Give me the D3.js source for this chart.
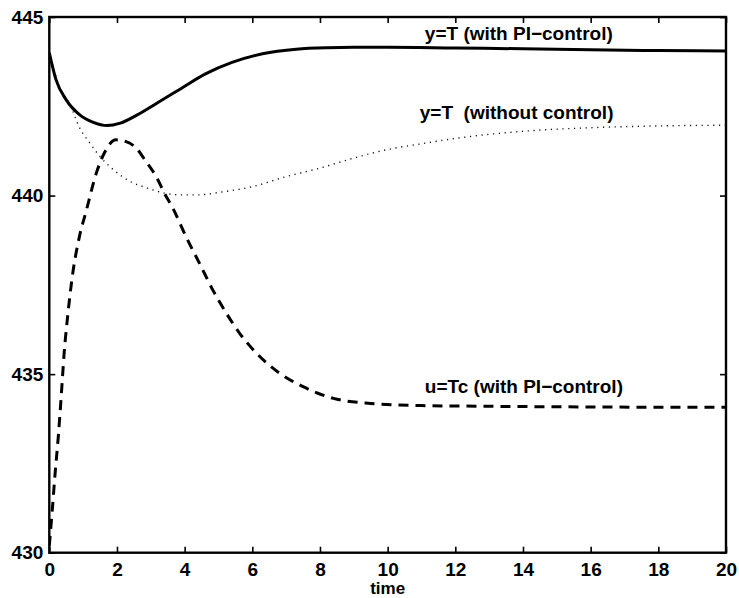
<!DOCTYPE html>
<html>
<head>
<meta charset="utf-8">
<script src="https://cdn.jsdelivr.net/npm/d3@7"></script>
<style>
  html, body { margin: 0; padding: 0; background: #fff; }
  svg { display: block; }
  text { font-family: "Liberation Sans", Arial, Helvetica, sans-serif; font-weight: bold; white-space: pre; }
</style>
</head>
<body>
<svg id="chart" width="739" height="598"></svg>
<script>
// ---- data ----
const xTicks = [0, 2, 4, 6, 8, 10, 12, 14, 16, 18, 20];
const yTicks = [430, 435, 440, 445];

// y = T with PI-control (solid)
const tPI = [0, 0.2, 0.5, 0.9, 1.3, 1.7, 2.1, 2.6, 3.2, 3.9, 4.6, 5.4, 6.3, 7.3, 8.2, 9, 10, 12, 14, 16, 18, 20];
const yPI = [444.0, 443.24, 442.68, 442.26, 442.05, 441.96, 442.03, 442.26, 442.6, 443.0, 443.4, 443.73, 443.97, 444.1, 444.14, 444.15, 444.15, 444.13, 444.11, 444.08, 444.06, 444.05];

// y = T without control (dotted)
const tNo = [0, 0.3, 0.6, 0.9, 1.2, 1.5, 1.9, 2.4, 2.9, 3.4, 3.9, 4.4, 5.1, 6, 7, 8, 9, 10, 11, 12, 14, 16, 18, 20];
const yNo = [444.0, 443.05, 442.57, 441.89, 441.47, 441.09, 440.72, 440.39, 440.21, 440.07, 440.02, 440.02, 440.1, 440.25, 440.53, 440.77, 441.05, 441.29, 441.45, 441.6, 441.8, 441.9, 441.95, 441.97];

// u = Tc with PI-control (dashed)
const tU = [0, 0.08, 0.17, 0.27, 0.35, 0.44, 0.54, 0.69, 0.89, 1.1, 1.38, 1.63, 1.97, 2.27, 2.57, 2.86, 3.16, 3.4, 3.65, 4.04, 4.44, 4.83, 5.23, 5.62, 6.12, 6.8, 7.5, 8.4, 9.5, 11, 13, 16, 20];
const yU = [430.2, 431.1, 432.2, 433.3, 434.35, 435.6, 436.6, 437.8, 438.85, 439.6, 440.6, 441.2, 441.56, 441.51, 441.33, 440.95, 440.53, 440.07, 439.65, 438.85, 438.1, 437.36, 436.71, 436.15, 435.59, 435.03, 434.65, 434.32, 434.18, 434.12, 434.1, 434.08, 434.07];

const labels = [
  { text: "y=T (with PI\u2212control)", t: 11.1, v: 444.36 },
  { text: "y=T  (without control)", t: 10.95, v: 442.15 },
  { text: "u=Tc (with PI\u2212control)", t: 11.1, v: 434.47 }
];

// ---- layout ----
const L = 49.3, R = 726, T = 17, B = 552.7;
const svg = d3.select("#chart");
const x = d3.scaleLinear().domain([0, 20]).range([L, R]);
const y = d3.scaleLinear().domain([430, 445]).range([B, T]);

const tickLen = 6;
const fs = 19;

function styleAxis(g) {
  g.select(".domain").remove();
  g.selectAll(".tick line").attr("stroke", "#000").attr("stroke-width", 1.6);
  g.selectAll(".tick text").attr("fill", "#000").style("font-size", fs + "px");
}
svg.append("g").attr("transform", `translate(0,${B})`)
  .call(d3.axisBottom(x).tickValues(xTicks).tickSize(-tickLen).tickPadding(10).tickFormat(d3.format("d")))
  .call(styleAxis);
svg.append("g").attr("transform", `translate(0,${T})`)
  .call(d3.axisTop(x).tickValues(xTicks).tickSize(-tickLen).tickFormat(""))
  .call(styleAxis);
svg.append("g").attr("transform", `translate(${L},0)`)
  .call(d3.axisLeft(y).tickValues(yTicks).tickSize(-tickLen).tickPadding(6).tickFormat(d3.format("d")))
  .call(styleAxis);
svg.append("g").attr("transform", `translate(${R},0)`)
  .call(d3.axisRight(y).tickValues(yTicks).tickSize(-tickLen).tickFormat(""))
  .call(styleAxis);

svg.append("rect").attr("x", L).attr("y", T).attr("width", R - L).attr("height", B - T)
  .attr("fill", "none").attr("stroke", "#000").attr("stroke-width", 2.4);

svg.append("clipPath").attr("id", "clip").append("rect")
  .attr("x", L).attr("y", T).attr("width", R - L).attr("height", B - T);

const line = d3.line().x(d => x(d[0])).y(d => y(d[1])).curve(d3.curveMonotoneX);
const zip = (a, b) => a.map((v, i) => [v, b[i]]);

const plot = svg.append("g").attr("clip-path", "url(#clip)");
plot.append("path").datum(zip(tNo, yNo)).attr("d", line)
  .attr("fill", "none").attr("stroke", "#111").attr("stroke-width", 1.4).attr("stroke-dasharray", "1.2,4.6");
plot.append("path").datum(zip(tU, yU)).attr("d", line)
  .attr("fill", "none").attr("stroke", "#000").attr("stroke-width", 3).attr("stroke-dasharray", "10,7");
plot.append("path").datum(zip(tPI, yPI)).attr("d", line)
  .attr("fill", "none").attr("stroke", "#000").attr("stroke-width", 3);

svg.selectAll(".ann").data(labels).enter().append("text")
  .attr("class", "ann")
  .attr("x", d => x(d.t)).attr("y", d => y(d.v))
  .style("font-size", fs + "px").attr("fill", "#000")
  .text(d => d.text);

svg.append("text").attr("x", (L + R) / 2).attr("y", 594).attr("text-anchor", "middle")
  .style("font-size", "17px").text("time");
</script>
</body>
</html>
